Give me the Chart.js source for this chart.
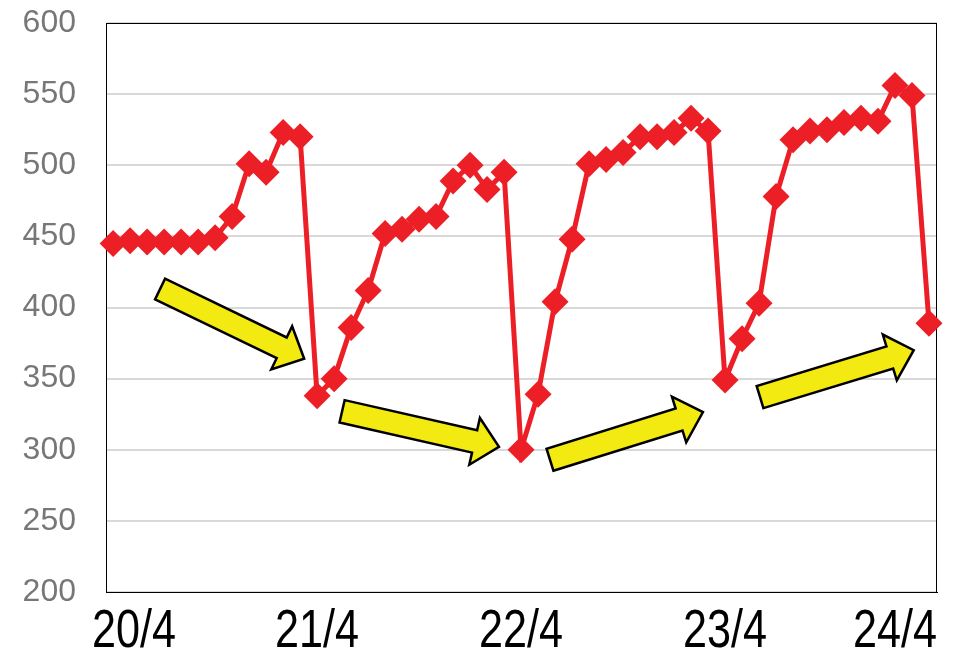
<!DOCTYPE html>
<html>
<head>
<meta charset="utf-8">
<script src="https://cdn.jsdelivr.net/npm/chart.js@4.4.1/dist/chart.umd.min.js"></script>
<style>
  html, body { margin: 0; padding: 0; background: #fff; }
  #wrap { width: 961px; height: 654px; }
</style>
</head>
<body>
<div id="wrap"><canvas id="priceChart" width="961" height="654"></canvas></div>
<script>
// --- data: 12 readings a day, 20/4 .. 24/4 ---
const dayLabels = ['20/4', '21/4', '22/4', '23/4', '24/4'];
const pointsPerDay = 12;
const values = [
    445, 447, 446, 446, 446, 446, 449, 464, 501, 495, 523, 520,
    338, 350, 386, 412, 452, 455, 462, 464, 489, 500, 483, 495,
    300, 339, 404, 448, 501, 504, 509, 520, 520, 523, 533, 524,
    349, 378, 403, 478, 518, 524, 525, 530, 533, 531, 556, 549,
    389
];
const yMin = 200;
const yMax = 600;
const yStep = 50;

// yellow trend arrows, ends given in data units (x = reading index, y = value)
const arrowTails = [[2.76, 413], [13.47, 327], [25.7, 293], [38.06, 337]];
const arrowTips  = [[11.24, 364], [22.7, 302], [34.7, 326.5], [47.1, 370]];

const lineRed = '#ED1F26';

// plot frame (top and right edges too)
const framePlugin = {
    id: 'frame',
    beforeDatasetsDraw(chart) {
        const { ctx, chartArea: a } = chart;
        ctx.save();
        ctx.strokeStyle = '#000';
        ctx.lineWidth = 1;
        ctx.strokeRect(a.left + 0.5, a.top + 0.5, a.right - a.left - 1, a.bottom - a.top);
        ctx.restore();
    }
};

// block arrows
const arrowPlugin = {
    id: 'arrows',
    afterDatasetsDraw(chart) {
        const { ctx, scales: { x, y } } = chart;
        const shaft = 23, head = 48, headLen = 25;
        ctx.save();
        ctx.fillStyle = '#F2EA10';
        ctx.strokeStyle = '#000';
        ctx.lineWidth = 2.5;
        ctx.lineJoin = 'miter';
        arrowTails.forEach((t, i) => {
            const p = arrowTips[i];
            const x0 = x.getPixelForValue(t[0]), y0 = y.getPixelForValue(t[1]);
            const x1 = x.getPixelForValue(p[0]), y1 = y.getPixelForValue(p[1]);
            const len = Math.hypot(x1 - x0, y1 - y0);
            const dx = (x1 - x0) / len, dy = (y1 - y0) / len;
            const nx = -dy, ny = dx;
            const bx = x1 - dx * headLen, by = y1 - dy * headLen;
            ctx.beginPath();
            ctx.moveTo(x0 + nx * shaft / 2, y0 + ny * shaft / 2);
            ctx.lineTo(bx + nx * shaft / 2, by + ny * shaft / 2);
            ctx.lineTo(bx + nx * head / 2, by + ny * head / 2);
            ctx.lineTo(x1, y1);
            ctx.lineTo(bx - nx * head / 2, by - ny * head / 2);
            ctx.lineTo(bx - nx * shaft / 2, by - ny * shaft / 2);
            ctx.lineTo(x0 - nx * shaft / 2, y0 - ny * shaft / 2);
            ctx.closePath();
            ctx.fill();
            ctx.stroke();
        });
        ctx.restore();
    }
};

// date labels under the axis, narrow glyphs, kept inside the frame on the right
const dayLabelPlugin = {
    id: 'dayLabels',
    afterDraw(chart) {
        const { ctx, chartArea: a, scales: { x } } = chart;
        const squeeze = 0.8;
        ctx.save();
        ctx.font = '54px "Liberation Sans", Arial, sans-serif';
        ctx.fillStyle = '#000';
        ctx.textAlign = 'center';
        ctx.textBaseline = 'middle';
        dayLabels.forEach((lab, d) => {
            const w = ctx.measureText(lab).width * squeeze;
            let cx = x.getPixelForValue(d * pointsPerDay);
            cx = Math.min(cx, a.right - w / 2);
            cx = Math.max(cx, a.left - 14 + w / 2);
            ctx.save();
            ctx.translate(cx, a.bottom + 40);
            ctx.scale(squeeze, 1);
            ctx.fillText(lab, 0, 0);
            ctx.restore();
        });
        ctx.restore();
    }
};

const points = values.map((v, i) => ({ x: i, y: v }));

new Chart(document.getElementById('priceChart'), {
    type: 'line',
    data: {
        datasets: [{
            data: points,
            borderColor: lineRed,
            borderWidth: 5,
            backgroundColor: lineRed,
            pointStyle: 'rectRot',
            pointRadius: 13.5,
            pointBorderWidth: 0,
            pointBackgroundColor: lineRed,
            tension: 0,
            clip: false
        }]
    },
    options: {
        responsive: false,
        animation: false,
        events: [],
        layout: { autoPadding: false, padding: { top: 23, right: 24, left: 0, bottom: 0 } },
        plugins: {
            legend: { display: false },
            tooltip: { enabled: false }
        },
        scales: {
            x: {
                type: 'linear',
                min: -0.42,
                max: 48.47,
                grid: { display: false },
                border: { color: '#000', width: 1 },
                ticks: { display: false },
                afterFit: s => { s.height = 62; s.paddingLeft = 0; s.paddingRight = 0; }
            },
            y: {
                min: yMin,
                max: yMax,
                grid: { color: '#D9D9D9', lineWidth: 2, drawTicks: false },
                border: { color: '#000', width: 1 },
                ticks: {
                    stepSize: yStep,
                    padding: 30,
                    color: '#777',
                    font: { family: '"Liberation Sans", Arial, sans-serif', size: 32 }
                },
                afterFit: s => { s.width = 106; s.paddingTop = 0; s.paddingBottom = 0; }
            }
        }
    },
    plugins: [framePlugin, arrowPlugin, dayLabelPlugin]
});
</script>
</body>
</html>
